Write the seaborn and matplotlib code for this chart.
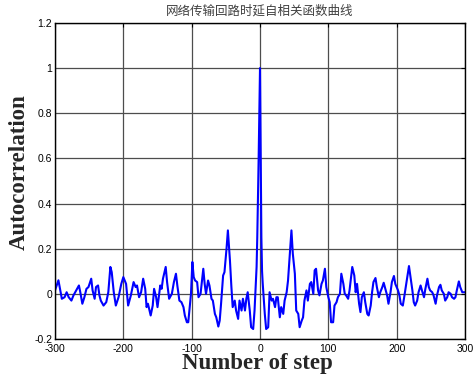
import matplotlib
matplotlib.use("Agg")
import matplotlib.pyplot as plt
import seaborn as sns
import pandas as pd

# lag (number of step) and autocorrelation
lags = [
    -300, -295, -290, -286, -283, -280, -276, -273, -269, -265, -263, -260, -257, -254,
    -251, -247, -245, -242, -240, -237, -235, -233, -229, -225, -222, -219, -217, -214,
    -211, -207, -203, -200, -196, -193, -189, -185, -182, -180, -177, -174, -171, -168,
    -166, -164, -160, -157, -155, -152, -150, -146, -144, -142, -138, -136, -133, -129,
    -126, -123, -121, -118, -115, -112, -110, -107, -105, -101, -99, -97, -95, -92,
    -90, -87, -83, -81, -79, -76, -74, -71, -69, -66, -64, -61, -59, -57,
    -54, -52, -49, -47, -44, -42, -40, -37, -35, -32, -30, -27, -25, -22,
    -20, -18, -15, -13, -10, -8, -5, -4, -3, -2, -1, 0, 1, 2,
    3, 4, 7, 9, 12, 14, 17, 19, 22, 24, 26, 29, 31, 34,
    36, 39, 41, 43, 46, 48, 51, 53, 56, 58, 61, 63, 65, 68,
    70, 73, 75, 78, 80, 82, 85, 87, 90, 92, 95, 97, 100, 102,
    104, 107, 109, 112, 114, 117, 119, 122, 124, 126, 129, 131, 135, 138,
    140, 142, 145, 147, 149, 152, 154, 157, 159, 162, 164, 166, 169, 171,
    174, 176, 179, 181, 184, 186, 188, 191, 193, 196, 198, 202, 204, 206,
    209, 211, 214, 218, 220, 223, 225, 227, 230, 232, 235, 237, 240, 242,
    245, 247, 249, 252, 254, 257, 259, 262, 264, 266, 269, 271, 274, 276,
    279, 281, 284, 286, 288, 291, 293, 296, 300,
]
acf = [
    0.015, 0.06, -0.022, -0.015, 0.007, -0.015, -0.03, -0.007, 0.015, 0.037, 0.007, -0.044, -0.015, 0.022,
    0.03, 0.067, 0.015, -0.022, 0.03, 0.037, -0.007, -0.03, -0.052, -0.037, 0.007, 0.119, 0.096, 0.007,
    -0.052, -0.015, 0.044, 0.074, 0.044, -0.052, -0.007, 0.052, 0.03, 0.037, -0.015, 0.007, 0.067, 0.022,
    -0.059, -0.044, -0.096, -0.052, 0.022, -0.015, -0.059, 0.037, 0.022, 0.067, 0.119, 0.052, -0.022, 0.0,
    0.052, 0.089, 0.037, -0.03, -0.037, -0.059, -0.096, -0.126, -0.126, 0.0, 0.141, 0.074, 0.059, 0.052,
    -0.015, 0.0, 0.111, 0.044, 0.0, 0.059, 0.037, -0.022, -0.03, -0.089, -0.104, -0.145, -0.119, -0.044,
    0.081, 0.096, 0.2, 0.281, 0.148, 0.037, -0.059, -0.03, -0.074, -0.111, -0.03, -0.074, -0.022, -0.074,
    -0.022, 0.007, -0.074, -0.148, -0.156, -0.074, 0.119, 0.25, 0.42, 0.6, 0.8, 1.0, 0.6, 0.25,
    0.1, 0.044, -0.089, -0.156, -0.148, 0.007, -0.03, -0.022, -0.059, -0.015, -0.015, -0.104, -0.059, -0.089,
    -0.03, 0.007, 0.059, 0.148, 0.281, 0.178, 0.089, -0.074, -0.089, -0.148, -0.119, -0.104, -0.03, 0.015,
    -0.03, 0.044, 0.052, 0.0, 0.104, 0.111, 0.015, -0.007, 0.044, 0.059, 0.111, 0.03, -0.015, -0.037,
    -0.126, -0.126, -0.052, -0.037, -0.015, 0.0, 0.089, 0.044, 0.0, -0.007, -0.022, 0.015, 0.119, 0.081,
    0.007, 0.044, -0.044, -0.081, -0.015, 0.007, -0.037, -0.089, -0.096, -0.052, 0.007, 0.052, 0.07, 0.03,
    -0.015, 0.007, 0.03, 0.049, 0.015, -0.007, -0.044, 0.007, 0.052, 0.079, 0.044, 0.015, -0.007, -0.044,
    -0.052, -0.015, 0.044, 0.123, 0.081, 0.015, -0.037, -0.052, -0.03, 0.007, 0.037, 0.015, -0.015, 0.022,
    0.067, 0.03, 0.015, 0.007, -0.007, -0.044, -0.007, 0.03, 0.04, 0.015, 0.0, -0.03, -0.015, 0.007,
    0.0, -0.015, -0.022, -0.015, 0.015, 0.055, 0.03, 0.007, 0.007,
]

xticks = [-300, -200, -100, 0, 100, 200, 300]
yticks = [-0.2, 0, 0.2, 0.4, 0.6, 0.8, 1, 1.2]
ytick_labels = ["-0.2", "0", "0.2", "0.4", "0.6", "0.8", "1", "1.2"]
title = "网络传输回路时延自相关函数曲线"

df = pd.DataFrame({"step": lags, "acf": acf})

sns.set_style("white")
plt.rcParams['font.family'] = ['Liberation Sans', 'Noto Sans CJK SC', 'DejaVu Sans']

fig = plt.figure(figsize=(4.73, 3.83), dpi=100)
ax = fig.add_axes([0.1163, 0.115, 0.8668, 0.825])

sns.lineplot(ax=ax, data=df, x="step", y="acf", color="#0000ff", linewidth=1.5, sort=False)

ax.set_xlim(-300, 300)
ax.set_ylim(-0.2, 1.2)
ax.set_xticks(xticks)
ax.set_xticklabels([str(t) for t in xticks])
ax.set_yticks(yticks)
ax.set_yticklabels(ytick_labels)
ax.grid(True, color="0.3", linewidth=0.9, linestyle="-")
ax.set_axisbelow(True)
ax.tick_params(direction="in", top=True, right=True, length=3, width=0.8,
               labelsize=7.5, colors="black")
ax.tick_params(axis="x", pad=3.5)
ax.tick_params(axis="y", pad=2)
for s in ax.spines.values():
    s.set_color("black")
    s.set_linewidth(1.0)

ax.set_xlabel("Number of step", family="Liberation Serif", fontweight="bold",
              fontsize=16.5)
ax.set_ylabel("Autocorrelation", family="Liberation Serif", fontweight="bold",
              fontsize=16.5)
ax.xaxis.set_label_coords(0.493, -0.045)
ax.yaxis.set_label_coords(-0.087, 0.527)
ax.yaxis.label.set_va("center")
ax.set_title(title, family=["Noto Sans CJK SC", "DejaVu Sans"], fontsize=9, pad=6,
             color="0.25")

fig.savefig("out.png", dpi=100)
